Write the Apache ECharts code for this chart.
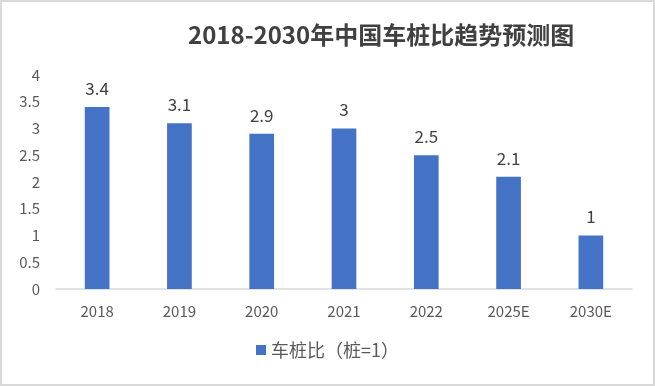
<!DOCTYPE html>
<html><head><meta charset="utf-8">
<script src="https://cdn.jsdelivr.net/npm/echarts@6/dist/echarts.min.js"></script>
<style>html,body{margin:0;padding:0;background:#fff}#c{width:655px;height:386px;box-sizing:border-box;border:2px solid #d9d9d9}</style>
</head><body><div id="c"></div>
<script>
const categories = ['2018','2019','2020','2021','2022','2025E','2030E'];
const ratioValues = [3.4, 3.1, 2.9, 3, 2.5, 2.1, 1];
const seriesName = '车桩比（桩=1）';
const titleText = '2018-2030年中国车桩比趋势预测图';
const chart = echarts.init(document.getElementById('c'), null, {renderer:'canvas'});
const font = '"Noto Sans CJK SC", "Noto Sans", sans-serif';
chart.setOption({
  animation:false,
  title:{text:titleText,left:181,top:16,textStyle:{fontFamily:font,fontSize:24,fontWeight:'bold',color:'#404040'}},
  legend:{bottom:20,left:'center',itemWidth:10,itemHeight:10,icon:'rect',itemGap:8,
    textStyle:{fontFamily:font,fontSize:18,color:'#595959'},data:[seriesName]},
  grid:{left:54,right:21,top:73,bottom:95,containLabel:false},
  xAxis:{type:'category',data:categories,
    axisLine:{lineStyle:{color:'#d9d9d9',width:1.5}},axisTick:{show:false},
    axisLabel:{fontFamily:font,fontSize:15,color:'#595959',margin:15}},
  yAxis:{type:'value',min:0,max:4,interval:0.5,
    axisLine:{show:false},axisTick:{show:false},splitLine:{show:false},
    axisLabel:{fontFamily:font,fontSize:15,color:'#595959',margin:16}},
  series:[{name:seriesName,type:'bar',data:ratioValues,barWidth:'30%',
    itemStyle:{color:'#4472c4'},
    label:{show:true,position:'top',distance:10,fontFamily:font,fontSize:17,color:'#404040'}}]
});
</script></body></html>
